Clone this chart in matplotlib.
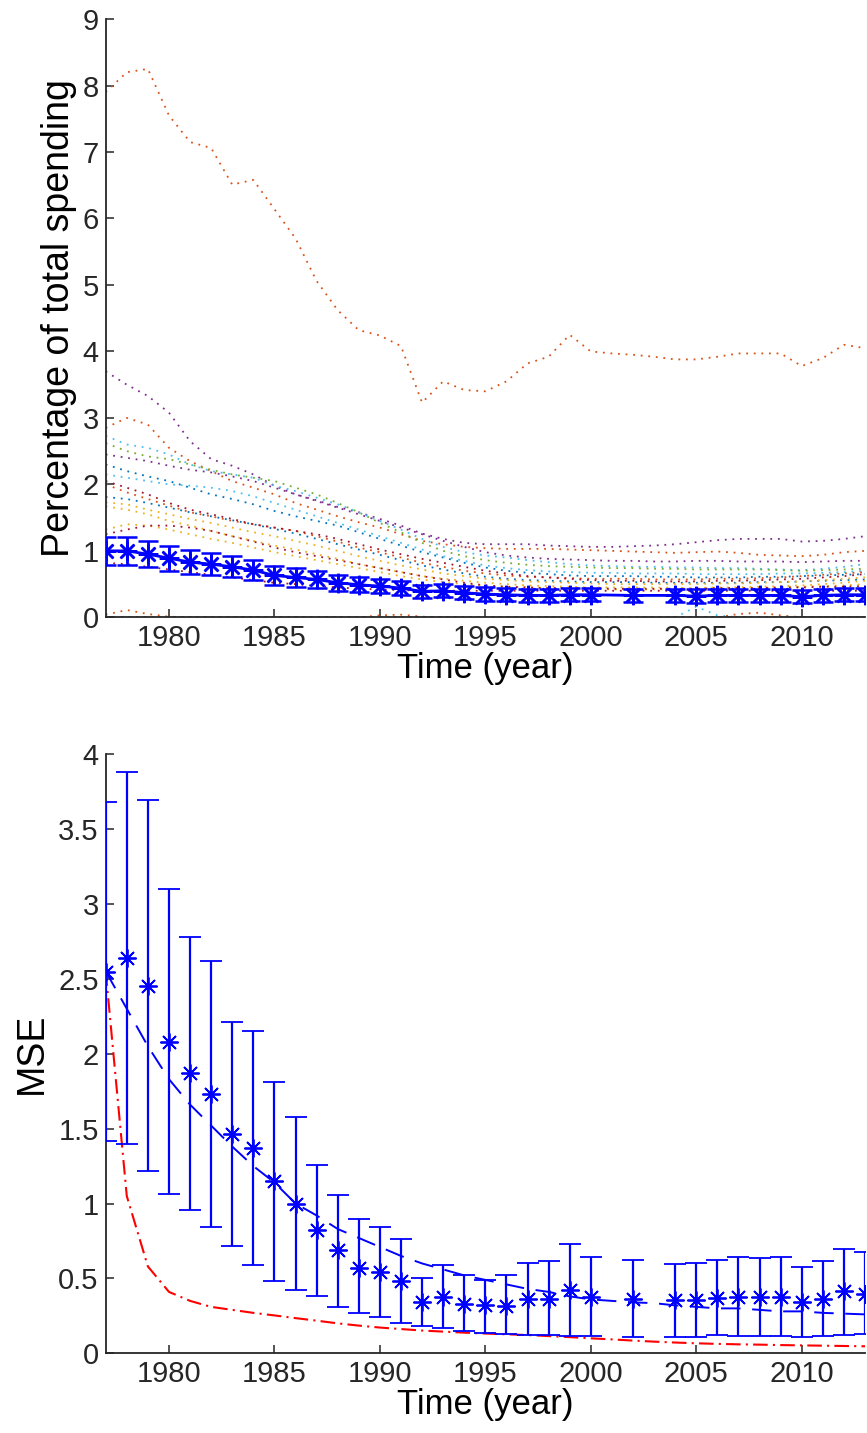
import matplotlib
matplotlib.use("Agg")
import matplotlib.pyplot as plt
import numpy as np

plt.rcParams['font.family'] = ['Liberation Sans', 'DejaVu Sans']

# ---------------- data ----------------
years = list(range(1977, 2014))
eb_years = list(range(1977, 2001)) + [2002] + list(range(2004, 2014))

C_BLUE = (0.0, 0.447, 0.741)
C_ORANGE = (0.85, 0.325, 0.098)
C_YELLOW = (0.929, 0.694, 0.125)
C_PURPLE = (0.494, 0.184, 0.556)
C_GREEN = (0.466, 0.674, 0.188)
C_LBLUE = (0.301, 0.745, 0.933)
C_DRED = (0.635, 0.078, 0.184)

s_orange_big = [7.90, 8.20, 8.25, 7.55, 7.15, 7.06, 6.51, 6.58, 6.14, 5.70, 5.06, 4.62, 4.32,
                4.24, 4.08, 3.23, 3.55, 3.42, 3.40, 3.55, 3.82, 3.92, 4.25, 4.00, 3.97, 3.95,
                3.92, 3.88, 3.88, 3.92, 3.97, 3.97, 3.97, 3.78, 3.90, 4.10, 4.05]
s_purple_top = [3.70, 3.50, 3.33, 3.08, 2.65, 2.38, 2.28, 2.15, 1.98, 1.85, 1.76, 1.66, 1.58,
                1.48, 1.38, 1.26, 1.18, 1.12, 1.10, 1.10, 1.10, 1.08, 1.07, 1.06, 1.06, 1.07,
                1.08, 1.10, 1.13, 1.16, 1.18, 1.18, 1.18, 1.14, 1.15, 1.18, 1.22]
s_orange_2 = [2.85, 3.00, 2.90, 2.55, 2.35, 2.20, 2.05, 1.95, 1.85, 1.72, 1.62, 1.52, 1.43,
              1.35, 1.25, 1.15, 1.10, 1.06, 1.04, 1.03, 1.03, 1.03, 1.02, 1.01, 1.00, 0.99,
              0.98, 0.97, 0.98, 0.99, 0.97, 0.94, 0.93, 0.92, 0.94, 0.98, 1.00]
s_lblue_1 = [2.73, 2.60, 2.55, 2.45, 2.30, 2.20, 2.15, 2.10, 1.98, 1.90, 1.80, 1.70, 1.58,
             1.45, 1.32, 1.18, 1.06, 0.98, 0.93, 0.90, 0.86, 0.83, 0.80, 0.78, 0.77, 0.76,
             0.76, 0.75, 0.75, 0.74, 0.74, 0.73, 0.72, 0.71, 0.73, 0.76, 0.80]
s_green = [2.62, 2.50, 2.42, 2.38, 2.30, 2.22, 2.15, 2.10, 2.05, 1.95, 1.85, 1.72, 1.58,
           1.42, 1.28, 1.12, 1.00, 0.92, 0.86, 0.82, 0.79, 0.77, 0.76, 0.75, 0.74, 0.74,
           0.73, 0.73, 0.72, 0.72, 0.72, 0.72, 0.71, 0.70, 0.71, 0.72, 0.73]
s_purple_2 = [2.45, 2.40, 2.35, 2.28, 2.22, 2.18, 2.12, 2.05, 1.95, 1.85, 1.75, 1.65, 1.55,
              1.45, 1.35, 1.25, 1.15, 1.06, 0.98, 0.93, 0.90, 0.88, 0.87, 0.86, 0.85, 0.85,
              0.84, 0.84, 0.85, 0.85, 0.84, 0.84, 0.84, 0.83, 0.84, 0.85, 0.85]
s_blue_1 = [2.30, 2.20, 2.12, 2.05, 1.95, 1.85, 1.78, 1.70, 1.60, 1.52, 1.45, 1.38, 1.28,
            1.18, 1.08, 0.98, 0.90, 0.82, 0.75, 0.70, 0.67, 0.65, 0.63, 0.62, 0.62, 0.62,
            0.61, 0.61, 0.60, 0.60, 0.60, 0.61, 0.61, 0.62, 0.63, 0.64, 0.65]
s_lblue_2 = [2.15, 2.10, 2.05, 2.00, 1.98, 1.95, 1.90, 1.82, 1.72, 1.62, 1.52, 1.42, 1.32,
             1.22, 1.12, 1.02, 0.92, 0.85, 0.78, 0.74, 0.71, 0.69, 0.68, 0.67, 0.67, 0.66,
             0.66, 0.66, 0.65, 0.65, 0.65, 0.65, 0.66, 0.66, 0.67, 0.68, 0.70]
s_orange_3 = [2.00, 1.88, 1.78, 1.68, 1.58, 1.52, 1.45, 1.40, 1.35, 1.30, 1.22, 1.14, 1.05,
              0.98, 0.90, 0.82, 0.76, 0.70, 0.66, 0.63, 0.61, 0.60, 0.59, 0.58, 0.58, 0.58,
              0.57, 0.57, 0.57, 0.58, 0.58, 0.59, 0.60, 0.62, 0.64, 0.66, 0.68]
s_dred_1 = [2.05, 1.95, 1.85, 1.72, 1.62, 1.55, 1.48, 1.40, 1.35, 1.30, 1.25, 1.18, 1.10,
            1.02, 0.95, 0.88, 0.82, 0.76, 0.70, 0.66, 0.62, 0.60, 0.58, 0.56, 0.55, 0.55,
            0.54, 0.54, 0.54, 0.55, 0.55, 0.56, 0.57, 0.58, 0.60, 0.62, 0.65]
s_blue_2 = [1.81, 1.78, 1.72, 1.65, 1.58, 1.52, 1.46, 1.40, 1.33, 1.26, 1.18, 1.10, 1.02,
            0.94, 0.86, 0.78, 0.72, 0.66, 0.61, 0.58, 0.56, 0.55, 0.54, 0.53, 0.53, 0.53,
            0.52, 0.52, 0.52, 0.52, 0.52, 0.53, 0.53, 0.54, 0.55, 0.56, 0.57]
s_yellow_1 = [1.73, 1.70, 1.62, 1.55, 1.48, 1.42, 1.35, 1.28, 1.22, 1.15, 1.08, 1.00, 0.92,
              0.85, 0.78, 0.72, 0.66, 0.62, 0.58, 0.56, 0.54, 0.53, 0.52, 0.51, 0.50, 0.50,
              0.50, 0.50, 0.50, 0.51, 0.51, 0.52, 0.53, 0.54, 0.56, 0.58, 0.60]
s_yellow_2 = [1.67, 1.62, 1.55, 1.45, 1.38, 1.30, 1.22, 1.15, 1.08, 1.02, 0.95, 0.88, 0.80,
              0.74, 0.68, 0.62, 0.58, 0.55, 0.52, 0.50, 0.48, 0.47, 0.46, 0.45, 0.45, 0.45,
              0.45, 0.44, 0.44, 0.45, 0.45, 0.46, 0.47, 0.48, 0.50, 0.52, 0.55]
s_yellow_3 = [1.32, 1.40, 1.38, 1.32, 1.25, 1.18, 1.12, 1.05, 0.98, 0.92, 0.86, 0.80, 0.74,
              0.68, 0.62, 0.57, 0.53, 0.50, 0.48, 0.46, 0.45, 0.44, 0.43, 0.43, 0.42, 0.42,
              0.42, 0.42, 0.42, 0.43, 0.43, 0.44, 0.45, 0.46, 0.47, 0.48, 0.50]
s_dred_2 = [1.25, 1.32, 1.38, 1.38, 1.35, 1.30, 1.22, 1.14, 1.05, 0.98, 0.92, 0.86, 0.80,
            0.74, 0.68, 0.62, 0.57, 0.52, 0.48, 0.46, 0.45, 0.44, 0.44, 0.44, 0.43, 0.43,
            0.43, 0.43, 0.43, 0.44, 0.44, 0.44, 0.45, 0.45, 0.46, 0.46, 0.47]
s_dred_low = [0.82, 0.80, 0.76, 0.72, 0.68, 0.64, 0.60, 0.56, 0.52, 0.50, 0.47, 0.45, 0.43,
              0.42, 0.41, 0.40, 0.40, 0.40, 0.40, 0.40, 0.40, 0.40, 0.40, 0.40, 0.40, 0.40,
              0.40, 0.40, 0.40, 0.40, 0.40, 0.40, 0.40, 0.40, 0.40, 0.40, 0.40]
s_orange_zero = [0.04, 0.11, 0.05, 0.01, 0.0, 0.0, 0.0, 0.0, 0.0, 0.0, 0.0, 0.0, 0.0,
                 0.03, 0.04, 0.01, 0.0, 0.0, 0.0, 0.0, 0.0, 0.0, 0.0, 0.0, 0.0, 0.0,
                 0.0, 0.0, 0.0, 0.0, 0.05, 0.07, 0.03, 0.0, 0.0, 0.0, 0.0]
s_lblue_zero = [0.0] * 28 + [0.16, 0.03, 0.0, 0.0, 0.0, 0.0, 0.0, 0.0, 0.0]
s_blue_zero = [0.0] * 37

series = [
    (s_orange_big, C_ORANGE), (s_purple_top, C_PURPLE), (s_orange_2, C_ORANGE),
    (s_lblue_1, C_LBLUE), (s_green, C_GREEN), (s_purple_2, C_PURPLE),
    (s_blue_1, C_BLUE), (s_lblue_2, C_LBLUE), (s_orange_3, C_ORANGE),
    (s_dred_1, C_DRED), (s_blue_2, C_BLUE), (s_yellow_1, C_YELLOW),
    (s_yellow_2, C_YELLOW), (s_yellow_3, C_YELLOW), (s_dred_2, C_DRED),
    (s_dred_low, C_DRED), (s_blue_zero, C_BLUE), (s_orange_zero, C_ORANGE),
    (s_lblue_zero, C_LBLUE),
]

top_mean = [1.00, 1.00, 0.95, 0.89, 0.83, 0.80, 0.76, 0.71, 0.63, 0.60, 0.57, 0.52, 0.49,
            0.47, 0.44, 0.39, 0.40, 0.37, 0.35, 0.34, 0.33, 0.33, 0.34, 0.34, 0.33, 0.33,
            0.32, 0.33, 0.33, 0.33, 0.33, 0.31, 0.33, 0.34, 0.34]
top_err = [0.21, 0.21, 0.20, 0.19, 0.18, 0.17, 0.16, 0.155, 0.145, 0.14, 0.13, 0.12, 0.115,
           0.11, 0.11, 0.10, 0.10, 0.10, 0.10, 0.10, 0.10, 0.10, 0.10, 0.10, 0.10, 0.10,
           0.10, 0.10, 0.10, 0.10, 0.10, 0.10, 0.10, 0.10, 0.10]

mse_mean = [2.547, 2.64, 2.45, 2.08, 1.87, 1.73, 1.465, 1.37, 1.147, 0.995, 0.82, 0.69, 0.57,
            0.54, 0.48, 0.34, 0.375, 0.33, 0.32, 0.315, 0.365, 0.365, 0.425, 0.375, 0.365,
            0.353, 0.353, 0.369, 0.375, 0.375, 0.375, 0.342, 0.365, 0.413, 0.398]
mse_upper = [3.68, 3.88, 3.69, 3.10, 2.78, 2.62, 2.21, 2.15, 1.81, 1.575, 1.26, 1.06, 0.895,
             0.84, 0.76, 0.50, 0.587, 0.52, 0.49, 0.52, 0.60, 0.615, 0.727, 0.64, 0.62,
             0.593, 0.605, 0.62, 0.642, 0.638, 0.642, 0.576, 0.613, 0.698, 0.675]
mse_lower = [1.415, 1.40, 1.22, 1.065, 0.955, 0.84, 0.715, 0.59, 0.48, 0.42, 0.38, 0.31, 0.27,
             0.24, 0.20, 0.18, 0.17, 0.15, 0.135, 0.127, 0.12, 0.12, 0.113, 0.113, 0.109,
             0.109, 0.109, 0.12, 0.116, 0.116, 0.116, 0.109, 0.113, 0.12, 0.131]
mse_trend = [2.55, 2.30, 2.05, 1.83, 1.66, 1.52, 1.38, 1.25, 1.14, 1.00, 0.92, 0.83, 0.77,
             0.71, 0.65, 0.60, 0.56, 0.52, 0.49, 0.46, 0.43, 0.41, 0.38, 0.36, 0.35, 0.34,
             0.335, 0.32, 0.31, 0.30, 0.30, 0.29, 0.28, 0.28, 0.27, 0.265, 0.26]
mse_red = [2.55, 1.05, 0.58, 0.41, 0.35, 0.31, 0.29, 0.27, 0.253, 0.235, 0.218, 0.20, 0.185,
           0.172, 0.162, 0.152, 0.145, 0.138, 0.132, 0.127, 0.122, 0.115, 0.108, 0.100,
           0.093, 0.085, 0.078, 0.072, 0.067, 0.063, 0.060, 0.058, 0.055, 0.053, 0.051,
           0.049, 0.047]

xticks = [1980, 1985, 1990, 1995, 2000, 2005, 2010]
top_yticks = list(range(0, 10))
bot_yticks = [0, 0.5, 1, 1.5, 2, 2.5, 3, 3.5, 4]
bot_yticklabels = ['0', '0.5', '1', '1.5', '2', '2.5', '3', '3.5', '4']

# ---------------- figure ----------------
fig = plt.figure(figsize=(8.67, 14.33), dpi=100)
AXC = (0.15, 0.15, 0.15)
TICK_FS = 21
LAB_FS = 25
YLAB_FS = 27

def style(ax):
    for s in ['top', 'right']:
        ax.spines[s].set_visible(False)
    for s in ['left', 'bottom']:
        ax.spines[s].set_color(AXC)
        ax.spines[s].set_linewidth(1.3)
    ax.tick_params(direction='in', length=6, width=1.1, colors=AXC,
                   labelsize=TICK_FS, pad=5)
    ax.set_xlim(1977, 2013)
    ax.set_xticks(xticks)
    ax.set_xlabel('Time (year)', fontsize=LAB_FS, color='black', labelpad=0)

ax1 = fig.add_axes([0.1219, 0.5692, 0.8758, 0.4175])
for vals, col in series:
    ax1.plot(years, vals, linestyle=(0, (1, 3.2)), color=col, linewidth=1.3)
ax1.errorbar(eb_years, top_mean, yerr=top_err, color='blue', linewidth=2,
             elinewidth=2, capsize=7, capthick=2, marker=(8, 2, 0),
             markersize=14, markeredgewidth=1.8, zorder=5)
ax1.set_ylim(0, 9)
ax1.set_yticks(top_yticks)
style(ax1)
ax1.set_ylabel('Percentage of total spending', fontsize=YLAB_FS, color='black', labelpad=4)

ax2 = fig.add_axes([0.1219, 0.0556, 0.8758, 0.4182])
ax2.plot(years, mse_red, linestyle=(0, (7, 2.5, 1, 2.5)), color='red', linewidth=1.5)
ax2.plot(years, mse_trend, linestyle=(0, (10, 6)), color='blue', linewidth=1.4)
mm = np.array(mse_mean)
yerr = [mm - np.array(mse_lower), np.array(mse_upper) - mm]
ax2.errorbar(eb_years, mse_mean, yerr=yerr, color='blue', linestyle='none',
             elinewidth=1.6, capsize=8, capthick=1.6, marker=(8, 2, 0),
             markersize=13, markeredgewidth=1.3, zorder=5)
ax2.set_ylim(0, 4)
ax2.set_yticks(bot_yticks)
ax2.set_yticklabels(bot_yticklabels)
style(ax2)
ax2.set_ylabel('MSE', fontsize=YLAB_FS, color='black', labelpad=6)

fig.savefig('out.png', dpi=100)
